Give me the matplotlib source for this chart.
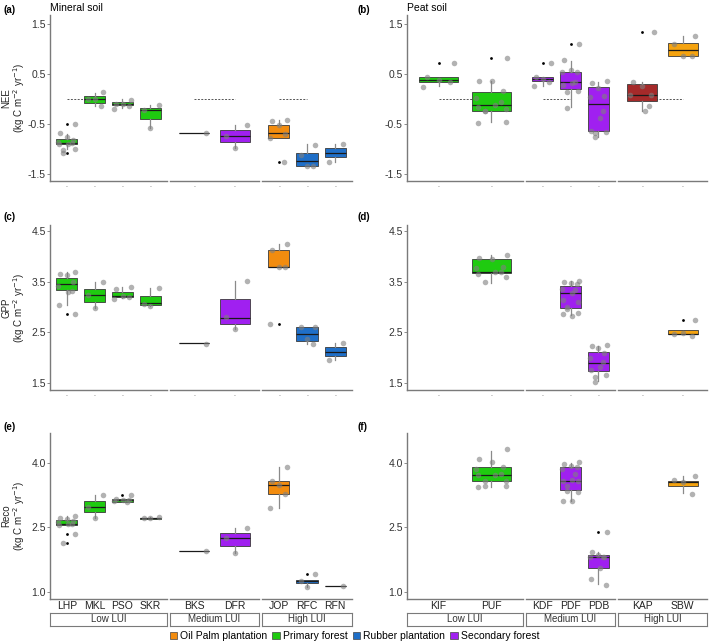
import numpy as np
import matplotlib
matplotlib.use("Agg")
import matplotlib.pyplot as plt
from matplotlib.patches import Patch

plt.rcParams['font.family'] = ['Liberation Sans', 'DejaVu Sans']
plt.rcParams['axes.unicode_minus'] = False

# sites per land-use intensity group
lui_groups = ["Low LUI", "Medium LUI", "High LUI"]
mineral_sites = [["LHP", "MKL", "PSO", "SKR"], ["BKS", "DFR"], ["JOP", "RFC", "RFN"]]
peat_sites = [["KIF", "PUF"], ["KDF", "PDF", "PDB"], ["KAP", "SBW"]]

c_palm = "#F28C0F"
c_primary = "#1FCB10"
c_rubber = "#1F6FC8"
c_secondary = "#A020F0"
site_color = {"LHP": c_primary, "MKL": c_primary, "PSO": c_primary, "SKR": c_primary,
              "BKS": c_secondary, "DFR": c_secondary, "JOP": c_palm,
              "RFC": c_rubber, "RFN": c_rubber,
              "KIF": c_primary, "PUF": c_primary, "KDF": c_secondary,
              "PDF": c_secondary, "PDB": c_secondary, "KAP": "#A52A2A", "SBW": "#F5A30F"}

# box stats: (low whisker, q1, median, q3, high whisker)
nee_min_box = {"LHP": (-0.99, -0.90, -0.87, -0.79, -0.69), "MKL": (-0.13, -0.07, 0.01, 0.07, 0.13),
               "PSO": (-0.17, -0.11, -0.09, -0.05, 0.0), "SKR": (-0.57, -0.39, -0.21, -0.17, -0.12),
               "BKS": (-0.67, -0.67, -0.67, -0.67, -0.67), "DFR": (-0.97, -0.86, -0.73, -0.62, -0.51),
               "JOP": (-0.77, -0.77, -0.68, -0.51, -0.41), "RFC": (-1.33, -1.33, -1.23, -1.07, -0.90),
               "RFN": (-1.25, -1.15, -1.07, -0.97, -0.89)}
nee_min_pts = {"LHP": [-0.50, -0.67, -0.75, -0.82, -0.85, -0.87, -0.89, -0.90, -0.99, -1.02, -1.07],
               "MKL": [0.15, 0.01, 0.0, -0.14], "PSO": [-0.02, -0.09, -0.10, -0.14, -0.19],
               "SKR": [-0.12, -0.22, -0.57], "BKS": [-0.67], "DFR": [-0.52, -0.73, -0.98],
               "JOP": [-0.41, -0.44, -0.51, -0.69, -0.77, -1.25], "RFC": [-0.91, -1.11, -1.33, -1.33],
               "RFN": [-0.89, -1.25]}
nee_min_out = {"LHP": [-0.50, -1.07], "JOP": [-1.25]}
nee_min_ref = [1.36, 1.0, 1.0]

nee_peat_box = {"KIF": (0.27, 0.34, 0.39, 0.45, 0.45), "PUF": (-0.46, -0.23, -0.11, 0.15, 0.37),
                "KDF": (0.27, 0.36, 0.41, 0.44, 0.45), "PDF": (-0.16, 0.21, 0.34, 0.54, 0.76),
                "PDB": (-0.76, -0.64, -0.09, 0.24, 0.35), "KAP": (-0.23, -0.03, 0.09, 0.31, 0.34),
                "SBW": (0.86, 0.86, 0.97, 1.12, 1.25)}
nee_peat_pts = {"KIF": [0.72, 0.45, 0.39, 0.34, 0.25],
                "PUF": [0.81, 0.37, 0.36, 0.16, 0.02, -0.05, -0.11, -0.15, -0.19, -0.23, -0.23, -0.46, -0.48],
                "KDF": [0.72, 0.45, 0.41, 0.34, 0.26],
                "PDF": [1.09, 0.77, 0.59, 0.54, 0.54, 0.34, 0.33, 0.29, 0.16, 0.14, -0.17],
                "PDB": [0.36, 0.32, 0.23, 0.07, 0.05, -0.23, -0.38, -0.63, -0.65, -0.67, -0.76],
                "KAP": [1.34, 0.34, 0.27, 0.09, 0.09, -0.13, -0.23], "SBW": [1.25, 1.09, 0.86, 0.86]}
nee_peat_out = {"KIF": [0.72], "PUF": [0.81], "KDF": [0.72], "PDF": [1.09], "KAP": [1.34]}
nee_peat_ref = [1.0, 1.0, 1.0]

gpp_min_box = {"LHP": (3.04, 3.33, 3.46, 3.58, 3.69), "MKL": (2.98, 3.10, 3.23, 3.36, 3.49),
               "PSO": (3.18, 3.19, 3.21, 3.30, 3.39), "SKR": (3.01, 3.04, 3.07, 3.22, 3.37),
               "BKS": (2.28, 2.28, 2.28, 2.28, 2.28), "DFR": (2.57, 2.67, 2.78, 3.15, 3.52),
               "JOP": (3.79, 3.79, 3.80, 4.12, 4.24), "RFC": (2.27, 2.33, 2.47, 2.60, 2.60),
               "RFN": (1.96, 2.04, 2.12, 2.20, 2.28)}
gpp_min_pts = {"LHP": [3.69, 3.66, 3.64, 3.49, 3.41, 3.32, 3.30, 3.03, 2.86],
               "MKL": [3.49, 3.23, 2.98], "PSO": [3.39, 3.36, 3.21, 3.20, 3.16],
               "SKR": [3.37, 3.06, 3.01], "BKS": [2.27], "DFR": [3.52, 2.81, 2.57],
               "JOP": [4.24, 4.12, 3.80, 3.79, 2.67], "RFC": [2.60, 2.60, 2.36, 2.27],
               "RFN": [2.28, 1.96]}
gpp_min_out = {"LHP": [2.86], "JOP": [2.67]}

gpp_peat_box = {"PUF": (3.48, 3.67, 3.69, 3.94, 4.02), "PDF": (2.84, 2.98, 3.27, 3.41, 3.51),
                "PDB": (1.53, 1.74, 1.89, 2.12, 2.23), "SBW": (2.46, 2.46, 2.47, 2.54, 2.54)}
gpp_peat_pts = {"PUF": [4.03, 3.97, 3.94, 3.80, 3.77, 3.69, 3.69, 3.65, 3.59, 3.49],
                "PDF": [3.51, 3.50, 3.48, 3.45, 3.36, 3.34, 3.27, 3.13, 3.10, 3.00, 2.96, 2.89, 2.86, 2.82],
                "PDB": [2.25, 2.23, 2.18, 2.10, 1.99, 1.92, 1.82, 1.76, 1.66, 1.61, 1.51],
                "SBW": [2.74, 2.47, 2.48, 2.43]}
gpp_peat_out = {"SBW": [2.74]}

reco_min_box = {"LHP": (2.55, 2.55, 2.59, 2.67, 2.76), "MKL": (2.73, 2.85, 2.98, 3.11, 3.26),
                "PSO": (3.10, 3.10, 3.13, 3.17, 3.17), "SKR": (2.70, 2.70, 2.72, 2.73, 2.75),
                "BKS": (1.96, 1.96, 1.96, 1.96, 1.96), "DFR": (1.91, 2.08, 2.25, 2.36, 2.48),
                "JOP": (2.94, 3.27, 3.48, 3.58, 3.90), "RFC": (1.12, 1.22, 1.26, 1.29, 1.29),
                "RFN": (1.14, 1.14, 1.15, 1.15, 1.15)}
reco_min_pts = {"LHP": [2.76, 2.71, 2.70, 2.66, 2.62, 2.59, 2.58, 2.55, 2.34, 2.15],
                "MKL": [3.26, 2.98, 2.72], "PSO": [3.25, 3.17, 3.13, 3.13, 3.11, 3.10],
                "SKR": [2.75, 2.71, 2.71], "BKS": [1.96], "DFR": [2.48, 2.25, 1.91],
                "JOP": [3.91, 3.58, 3.48, 3.27, 2.94], "RFC": [1.43, 1.26, 1.12], "RFN": [1.15]}
reco_min_out = {"LHP": [2.34, 2.15], "PSO": [3.25], "RFC": [1.43]}

reco_peat_box = {"PUF": (3.44, 3.58, 3.71, 3.91, 4.28), "PDF": (3.12, 3.37, 3.58, 3.91, 4.00),
                 "PDB": (1.19, 1.57, 1.82, 1.86, 1.92), "SBW": (3.30, 3.46, 3.56, 3.58, 3.70)}
reco_peat_pts = {"PUF": [4.31, 4.08, 4.02, 3.91, 3.85, 3.75, 3.71, 3.71, 3.58, 3.58, 3.46, 3.46, 3.44],
                 "PDF": [4.02, 3.96, 3.92, 3.91, 3.85, 3.75, 3.60, 3.58, 3.58, 3.46, 3.34, 3.33, 3.12, 3.12],
                 "PDB": [2.40, 1.92, 1.86, 1.82, 1.82, 1.81, 1.57, 1.31, 1.16],
                 "SBW": [3.69, 3.61, 3.56, 3.27]}
reco_peat_out = {"PDB": [2.40]}

row_names = ["NEE", "GPP", "Reco"]
row_ylim = [(-1.64, 1.68), (1.36, 4.62), (0.84, 4.69)]
row_ticks = [[-1.5, -0.5, 0.5, 1.5], [1.5, 2.5, 3.5, 4.5], [1.0, 2.5, 4.0]]

legend_labels = ["Oil Palm plantation", "Primary forest", "Rubber plantation", "Secondary forest"]
legend_colors = [c_palm, c_primary, c_rubber, c_secondary]

# ---------------------------------------------------------------------------
W, H = 709, 642
fig = plt.figure(figsize=(W / 100, H / 100), dpi=100)
gray = "#7a7a7a"


def px_axes(x0, y0, x1, y1):
    return fig.add_axes([x0 / W, 1 - y1 / H, (x1 - x0) / W, (y1 - y0) / H])


rows_px = [(15, 181), (225, 390), (433, 599)]
cols_px = [[(50, 167), (170, 259), (262, 352)], [(407, 523), (526, 615), (618, 707)]]

panels = [
    [(nee_min_box, nee_min_pts, nee_min_out, nee_min_ref), (nee_peat_box, nee_peat_pts, nee_peat_out, nee_peat_ref)],
    [(gpp_min_box, gpp_min_pts, gpp_min_out, None), (gpp_peat_box, gpp_peat_pts, gpp_peat_out, None)],
    [(reco_min_box, reco_min_pts, reco_min_out, None), (reco_peat_box, reco_peat_pts, reco_peat_out, None)],
]


def jitter(n):
    return 0.3 * np.sin(1.7 + 2.3 * np.arange(n))


for r in range(3):
    y0, y1 = rows_px[r]
    # y axis title, two lines like ggplot's
    ymid = 1 - (y0 + y1) / 2 / H
    fig.text(6 / W, ymid, row_names[r], rotation=90, ha="center", va="center",
             fontsize=7, color="#222222")
    fig.text(19 / W, ymid, "(kg C m$^{-2}$ yr$^{-1}$)", rotation=90, ha="center", va="center",
             fontsize=7, color="#222222")
    for c in range(2):
        box, pts, out, ref = panels[r][c]
        sites_all = mineral_sites if c == 0 else peat_sites
        for g in range(3):
            x0, x1 = cols_px[c][g]
            ax = px_axes(x0, y0, x1, y1)
            sites = sites_all[g]
            n = len(sites)
            ax.set_xlim(-0.6, n - 0.4)
            ax.set_ylim(*row_ylim[r])
            for s in ["top", "right"]:
                ax.spines[s].set_visible(False)
            ax.spines["bottom"].set_color(gray)
            ax.spines["bottom"].set_linewidth(1.0)
            if g == 0:
                ax.spines["left"].set_color(gray)
                ax.spines["left"].set_linewidth(1.0)
                ax.set_yticks(row_ticks[r])
                ax.set_yticklabels(["%.1f" % t for t in row_ticks[r]], fontsize=7.5, color="#333333")
                ax.tick_params(axis="y", length=2, width=0.6, color=gray, pad=1)
            else:
                ax.spines["left"].set_visible(False)
                ax.set_yticks([])
            ax.set_xticks(range(n))
            if r < 2:
                ax.set_xticklabels(["."] * n, fontsize=5, color="#555555")
                ax.tick_params(axis="x", length=0, pad=1)
            else:
                ax.set_xticklabels(sites, fontsize=7.5, color="#222222")
                ax.tick_params(axis="x", length=0, pad=1.5)
            ax.patch.set_alpha(0)

            if ref is not None:
                ax.plot([0, ref[g]], [0, 0], ls=(0, (2, 1.5)), color="#555555", lw=0.7, zorder=1)

            for i, s in enumerate(sites):
                if s in box:
                    lo, q1, med, q3, hi = box[s]
                    stats = [dict(whislo=lo, q1=q1, med=med, q3=q3, whishi=hi, fliers=[])]
                    ax.bxp(stats, positions=[i], widths=0.75, patch_artist=True,
                           showcaps=False, showfliers=False, manage_ticks=False,
                           boxprops=dict(facecolor=site_color[s], edgecolor="#3a3a3a", linewidth=0.6),
                           medianprops=dict(color="#1a1a1a", linewidth=0.9),
                           whiskerprops=dict(color="#8a8a8a", linewidth=0.9), zorder=2)
                if s in out:
                    ax.scatter([i] * len(out[s]), out[s], s=4, color="black", zorder=3, lw=0)
                if s in pts:
                    v = pts[s]
                    ax.scatter(i + jitter(len(v)), v, s=16, color="#808080", alpha=0.6,
                               lw=0, zorder=4)

            if r == 2:
                sax = px_axes(x0, 613, x1, 626)
                sax.set_xticks([])
                sax.set_yticks([])
                for sp in sax.spines.values():
                    sp.set_color(gray)
                    sp.set_linewidth(0.8)
                sax.text(0.5, 0.5, lui_groups[g], ha="center", va="center", fontsize=7,
                         color="#333333", transform=sax.transAxes)

# panel letters and titles
letters = [("(a)", 4, 10), ("(b)", 358, 10), ("(c)", 4, 217), ("(d)", 358, 217), ("(e)", 4, 427), ("(f)", 358, 427)]
for t, x, y in letters:
    fig.text(x / W, 1 - y / H, t, fontsize=7, fontweight="bold", va="center", ha="left")
fig.text(50 / W, 1 - 8 / H, "Mineral soil", fontsize=7.5, va="center", ha="left")
fig.text(407 / W, 1 - 8 / H, "Peat soil", fontsize=7.5, va="center", ha="left")

handles = [Patch(facecolor=col, edgecolor="#444444", linewidth=0.5) for col in legend_colors]
fig.legend(handles, legend_labels, loc="center", bbox_to_anchor=(0.5, 1 - 636 / H), ncol=4,
           frameon=False, fontsize=7.5, handlelength=0.7, handleheight=0.7, handletextpad=0.3,
           columnspacing=0.5, borderpad=0)

plt.savefig("out.png", dpi=100)
